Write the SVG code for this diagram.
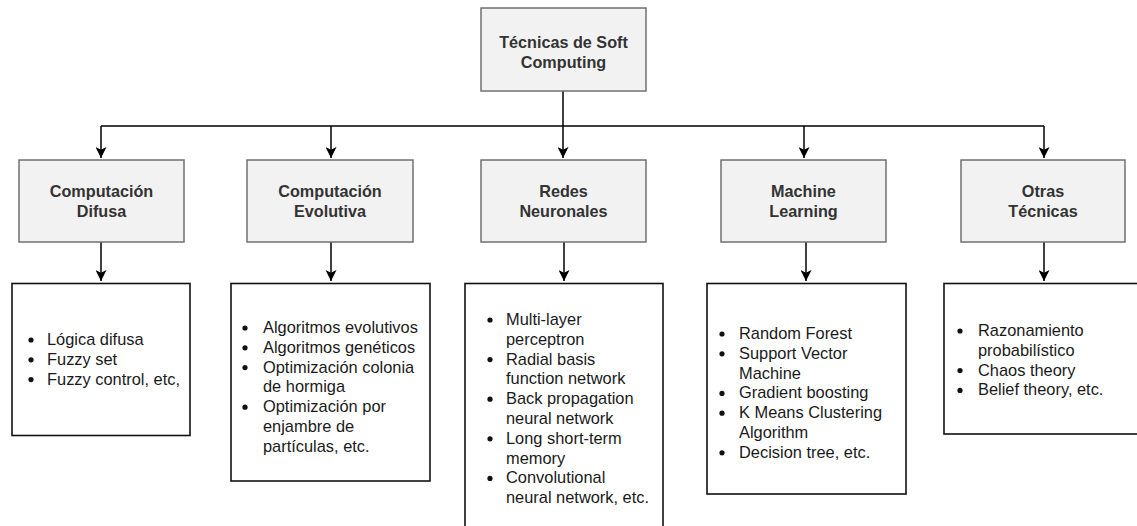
<svg xmlns="http://www.w3.org/2000/svg" width="1137" height="526" viewBox="0 0 1137 526">
  <style>
    .head rect { fill: #f2f2f2; stroke: #707070; stroke-width: 1.5; }
    .head text { font-family: "Liberation Sans", Arial, sans-serif; font-size: 16.2px; font-weight: bold; fill: #333333; text-anchor: middle; }
    .list rect { fill: #ffffff; stroke: #111111; stroke-width: 1.6; }
    .list text { font-family: "Liberation Sans", Arial, sans-serif; font-size: 16.4px; fill: #1a1a1a; }
    .list circle { fill: #111111; }
    .wire { fill: none; stroke: #000000; stroke-width: 1.5; }
  </style>
  <defs>
    <marker id="arrow" viewBox="0 0 10 10" refX="10" refY="5" markerWidth="11" markerHeight="11" markerUnits="userSpaceOnUse" orient="auto">
      <path d="M0,0 L10,5 L0,10 L2.5,5 Z" fill="#000000"/>
    </marker>
  </defs>

  <rect width="1137" height="526" fill="#ffffff"/>

  <!-- connectors -->
  <g id="connectors">
    <path class="wire" d="M563,91 V126"/>
    <path class="wire" d="M101,126 H1044"/>
    <path class="wire" d="M101,126 V158" marker-end="url(#arrow)"/>
    <path class="wire" d="M331,126 V158" marker-end="url(#arrow)"/>
    <path class="wire" d="M563,126 V158" marker-end="url(#arrow)"/>
    <path class="wire" d="M804,126 V158" marker-end="url(#arrow)"/>
    <path class="wire" d="M1044,126 V158" marker-end="url(#arrow)"/>
    <path class="wire" d="M101,242 V281" marker-end="url(#arrow)"/>
    <path class="wire" d="M331,242 V281" marker-end="url(#arrow)"/>
    <path class="wire" d="M564,242 V281" marker-end="url(#arrow)"/>
    <path class="wire" d="M806,242 V281" marker-end="url(#arrow)"/>
    <path class="wire" d="M1044,242 V281" marker-end="url(#arrow)"/>
  </g>

  <!-- root -->
  <g id="root" class="head">
    <rect x="481" y="8" width="165" height="83"/>
    <text x="563.5" y="48">Técnicas de Soft</text>
    <text x="563.5" y="68">Computing</text>
  </g>

  <!-- category boxes -->
  <g id="difusa" class="head">
    <rect x="19" y="160" width="165" height="82"/>
    <text x="101.5" y="197">Computación</text>
    <text x="101.5" y="217">Difusa</text>
  </g>
  <g id="evolutiva" class="head">
    <rect x="247" y="160" width="166" height="82"/>
    <text x="330" y="197">Computación</text>
    <text x="330" y="217">Evolutiva</text>
  </g>
  <g id="redes" class="head">
    <rect x="481" y="160" width="165" height="82"/>
    <text x="563.5" y="197">Redes</text>
    <text x="563.5" y="217">Neuronales</text>
  </g>
  <g id="ml" class="head">
    <rect x="721" y="160" width="165" height="82"/>
    <text x="803.5" y="197">Machine</text>
    <text x="803.5" y="217">Learning</text>
  </g>
  <g id="otras" class="head">
    <rect x="961" y="160" width="164" height="82"/>
    <text x="1043" y="197">Otras</text>
    <text x="1043" y="217">Técnicas</text>
  </g>

  <!-- detail lists -->
  <g id="difusa-list" class="list">
    <rect x="12" y="283.5" width="178" height="152"/>
    <circle cx="31" cy="340" r="2.6"/>
    <circle cx="31" cy="359.8" r="2.6"/>
    <circle cx="31" cy="379.6" r="2.6"/>
    <text x="47" y="345">Lógica difusa</text>
    <text x="47" y="364.8">Fuzzy set</text>
    <text x="47" y="384.6">Fuzzy control, etc,</text>
  </g>

  <g id="evolutiva-list" class="list">
    <rect x="231" y="283.5" width="199" height="197.5"/>
    <circle cx="245" cy="328" r="2.6"/>
    <circle cx="245" cy="347.8" r="2.6"/>
    <circle cx="245" cy="367.6" r="2.6"/>
    <circle cx="245" cy="407.2" r="2.6"/>
    <text x="263" y="333">Algoritmos evolutivos</text>
    <text x="263" y="352.8">Algoritmos genéticos</text>
    <text x="263" y="372.6">Optimización colonia</text>
    <text x="263" y="392.4">de hormiga</text>
    <text x="263" y="412.2">Optimización por</text>
    <text x="263" y="432">enjambre de</text>
    <text x="263" y="451.8">partículas, etc.</text>
  </g>

  <g id="redes-list" class="list">
    <rect x="465" y="283.5" width="198" height="250"/>
    <circle cx="490" cy="320" r="2.6"/>
    <circle cx="490" cy="359.6" r="2.6"/>
    <circle cx="490" cy="399.2" r="2.6"/>
    <circle cx="490" cy="438.8" r="2.6"/>
    <circle cx="490" cy="478.4" r="2.6"/>
    <text x="506" y="325">Multi-layer</text>
    <text x="506" y="344.8">perceptron</text>
    <text x="506" y="364.6">Radial basis</text>
    <text x="506" y="384.4">function network</text>
    <text x="506" y="404.2">Back propagation</text>
    <text x="506" y="424">neural network</text>
    <text x="506" y="443.8">Long short-term</text>
    <text x="506" y="463.6">memory</text>
    <text x="506" y="483.4">Convolutional</text>
    <text x="506" y="503.2">neural network, etc.</text>
  </g>

  <g id="ml-list" class="list">
    <rect x="707" y="283.5" width="199" height="210.5"/>
    <circle cx="722" cy="334" r="2.6"/>
    <circle cx="722" cy="353.8" r="2.6"/>
    <circle cx="722" cy="393.4" r="2.6"/>
    <circle cx="722" cy="413.2" r="2.6"/>
    <circle cx="722" cy="452.8" r="2.6"/>
    <text x="739" y="339">Random Forest</text>
    <text x="739" y="358.8">Support Vector</text>
    <text x="739" y="378.6">Machine</text>
    <text x="739" y="398.4">Gradient boosting</text>
    <text x="739" y="418.2">K Means Clustering</text>
    <text x="739" y="438">Algorithm</text>
    <text x="739" y="457.8">Decision tree, etc.</text>
  </g>

  <g id="otras-list" class="list">
    <rect x="944" y="283.5" width="210" height="150.5"/>
    <circle cx="960" cy="331" r="2.6"/>
    <circle cx="960" cy="370.6" r="2.6"/>
    <circle cx="960" cy="390.4" r="2.6"/>
    <text x="978" y="336">Razonamiento</text>
    <text x="978" y="355.8">probabilístico</text>
    <text x="978" y="375.6">Chaos theory</text>
    <text x="978" y="395.4">Belief theory, etc.</text>
  </g>
</svg>
